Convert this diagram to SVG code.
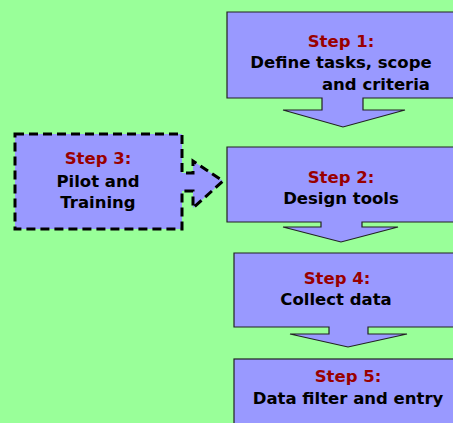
<svg xmlns="http://www.w3.org/2000/svg" width="453" height="423" viewBox="0 0 453 423">
<style>
.box{fill:#9999FF;stroke:#222;stroke-width:1.2}
.dash{fill:#9999FF;stroke:#000;stroke-width:3;stroke-dasharray:9,5}
text{font-family:"DejaVu Sans","Verdana",sans-serif;font-weight:bold;font-size:16.5px;text-anchor:middle}
.s{fill:#990000}
.b{fill:#000}
</style>
<rect x="0" y="0" width="453" height="423" fill="#99FF99"/>
<g id="step1">
<path class="box" d="M227,12 H460 V98 H363 V110 H405 L343,127 L283,110 H322 V98 H227 Z"/>
<text class="s" x="341" y="47">Step 1:</text>
<text class="b" x="341" y="68">Define tasks, scope</text>
<text class="b" x="430" y="90" style="text-anchor:end">and criteria</text>
</g>
<g id="step2">
<path class="box" d="M227,147 H460 V222 H362 V227 H398 L341,242 L283,227 H321 V222 H227 Z"/>
<text class="s" x="341" y="183">Step 2:</text>
<text class="b" x="341" y="204">Design tools</text>
</g>
<g id="step3">
<path class="dash" d="M15,134 H182 V173 H193 V161 L223,181 L193,208 V191 H182 V229 H15 Z"/>
<text class="s" x="98" y="164">Step 3:</text>
<text class="b" x="98" y="187">Pilot and</text>
<text class="b" x="98" y="208">Training</text>
</g>
<g id="step4">
<path class="box" d="M234,253 H460 V327 H368 V334 H407 L348,347 L290,334 H329 V327 H234 Z"/>
<text class="s" x="337" y="284">Step 4:</text>
<text class="b" x="336" y="305">Collect data</text>
</g>
<g id="step5">
<rect class="box" x="234" y="359" width="230" height="80"/>
<text class="s" x="348" y="382">Step 5:</text>
<text class="b" x="348" y="404">Data filter and entry</text>
</g>
<g id="connectors"></g>
</svg>
